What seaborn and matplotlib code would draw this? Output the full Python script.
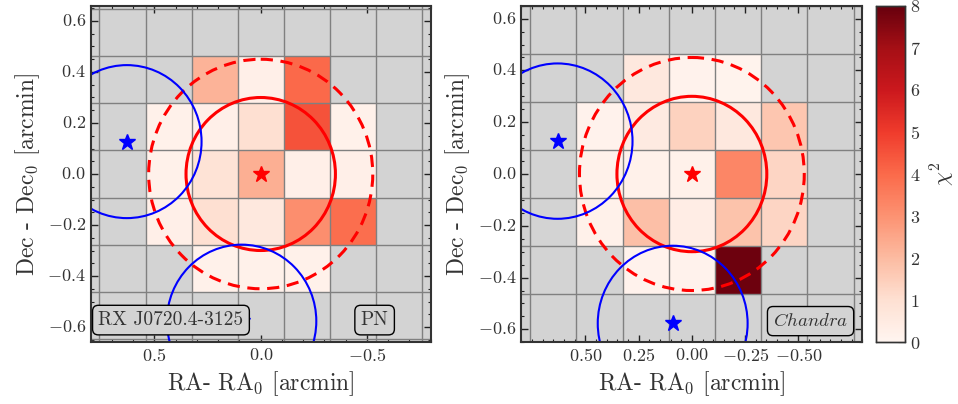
import numpy as np
import seaborn as sns
import matplotlib.pyplot as plt
from matplotlib.patches import Circle

# chi2 maps on a 7x7 pixel grid (rows top->bottom, columns east->west), NaN = no data
pn_chi2 = [
    [np.nan, np.nan, np.nan, np.nan, np.nan, np.nan, np.nan],
    [np.nan, np.nan, 2.2, 0.3, 4.0, np.nan, np.nan],
    [np.nan, 0.2, 0.3, 1.0, 4.5, 0.2, np.nan],
    [np.nan, 0.2, 0.9, 2.3, 0.3, 0.3, np.nan],
    [np.nan, 0.3, 1.0, 0.6, 3.1, 3.9, np.nan],
    [np.nan, np.nan, 0.2, 0.2, 0.2, np.nan, np.nan],
    [np.nan, np.nan, np.nan, np.nan, np.nan, np.nan, np.nan],
]
chandra_chi2 = [
    [np.nan, np.nan, np.nan, np.nan, np.nan, np.nan, np.nan],
    [np.nan, np.nan, 0.6, 0.15, 0.1, np.nan, np.nan],
    [np.nan, 0.15, 0.5, 1.4, 0.6, 1.7, np.nan],
    [np.nan, 0.2, 0.2, 0.2, 3.3, 1.3, np.nan],
    [np.nan, 0.2, 1.9, 0.4, 1.8, 1.3, np.nan],
    [np.nan, np.nan, 0.15, 0.15, 7.9, np.nan, np.nan],
    [np.nan, np.nan, np.nan, np.nan, np.nan, np.nan, np.nan],
]

# geometry [arcmin]
pix_dec = 0.185
dec0 = -31.42
r_in, r_out = 0.3, 0.45
neighbours = [(0.63, 0.127), (0.09, -0.577)]
neighbour_r = 0.3

cosd = np.cos(np.radians(dec0))
pix_ra = pix_dec / cosd
n = len(pn_chi2)
c = n / 2.0

sns.set_style('ticks', {'xtick.direction': 'in', 'ytick.direction': 'in'})
plt.rcParams['font.family'] = ['cmr10']
plt.rcParams['mathtext.fontset'] = 'cm'
plt.rcParams['axes.formatter.use_mathtext'] = True
plt.rcParams['axes.unicode_minus'] = True


def to_ix(ra, dec):
    return c - ra / pix_ra, c - dec / pix_dec


fig = plt.figure(figsize=(9.58, 4.04), dpi=100)
ax1 = fig.add_axes([0.0947, 0.1527, 0.3549, 0.8332])
ax2 = fig.add_axes([0.5442, 0.1527, 0.3560, 0.8332])
cax = fig.add_axes([0.9144, 0.1527, 0.0303, 0.8332])

panels = [
    (ax1, pn_chi2, 0.775, 0.66, [0.5, 0.0, -0.5], 0.1, '{:.1f}', False),
    (ax2, chandra_chi2, 0.748, 0.636, [0.5, 0.25, 0.0, -0.25, -0.5], 0.05, '{:.2f}', True),
]

for ax, data, xmax, ymax, xt, xminor, fmt, show_cbar in panels:
    arr = np.array(data)
    ax.set_facecolor('lightgray')
    sns.heatmap(arr, ax=ax, cmap='Reds', vmin=0, vmax=8, mask=np.isnan(arr),
                cbar=show_cbar, cbar_ax=cax if show_cbar else None)

    # pixel grid
    for i in range(n + 1):
        ax.axvline(i, color='gray', lw=1.0, zorder=2)
        ax.axhline(i, color='gray', lw=1.0, zorder=2)

    # error circles (circles in pixel units since RA pixels are scaled by cos(dec))
    ax.add_patch(Circle(to_ix(0, 0), r_in / pix_dec, fill=False, ec='red', lw=2.2, zorder=4))
    ax.add_patch(Circle(to_ix(0, 0), r_out / pix_dec, fill=False, ec='red', lw=2.2,
                        ls=(0, (4, 2.5)), zorder=4))
    ax.plot(*to_ix(0, 0), marker='*', color='red', ms=12, zorder=5)
    for ra, dec in neighbours:
        ax.add_patch(Circle(to_ix(ra, dec), neighbour_r / pix_dec, fill=False, ec='blue',
                            lw=1.5, zorder=4))
        ax.plot(*to_ix(ra, dec), marker='*', color='blue', ms=12, zorder=5)

    ax.set_xlim(c - xmax / pix_ra, c + xmax / pix_ra)
    ax.set_ylim(c + ymax / pix_dec, c - ymax / pix_dec)

    # ticks in arcmin
    xt = np.array(xt)
    ax.set_xticks(c - xt / pix_ra)
    ax.set_xticklabels(['$' + fmt.format(v) + '$' for v in xt], rotation=0)
    xm = np.arange(-0.8, 0.8001, xminor)
    ax.set_xticks(c - xm / pix_ra, minor=True)
    yt = np.arange(-0.6, 0.6001, 0.2)
    ax.set_yticks(c - yt / pix_dec)
    ax.set_yticklabels(['${:.1f}$'.format(v + 0.0) for v in np.round(yt, 1)], rotation=0)
    ym = np.arange(-0.65, 0.6501, 0.05)
    ax.set_yticks(c - ym / pix_dec, minor=True)

    ax.tick_params(which='both', direction='in', top=True, right=True, labelsize=13,
                   color='#222222', labelcolor='#333333')
    ax.tick_params(which='major', length=5, width=1)
    ax.tick_params(which='minor', length=2.5, width=0.8)
    for s in ax.spines.values():
        s.set_visible(True)
        s.set_color('#333333')
        s.set_linewidth(1.5)
        s.set_zorder(6)

    ax.set_xlabel(r'RA- RA$_0$ [arcmin]', fontsize=17, color='#333333')
    ax.set_ylabel(r'Dec - Dec$_0$ [arcmin]', fontsize=17, color='#333333')

box = dict(boxstyle='round,pad=0.3', fc='lightgray', ec='black', lw=1)
ax1.text(0.236, 0.066, 'RX J0720.4-3125', transform=ax1.transAxes, ha='center', va='center',
         fontsize=14, color='#333333', bbox=box, zorder=7)
ax1.text(0.835, 0.066, 'PN', transform=ax1.transAxes, ha='center', va='center',
         fontsize=14, color='#333333', bbox=box, zorder=7)
ax2.text(0.848, 0.063, r'$\mathit{Chandra}$', transform=ax2.transAxes, ha='center',
         va='center', fontsize=13.5, color='#333333', bbox=box, zorder=7)

cax.set_yticks(range(0, 9))
cax.set_yticklabels(['$%d$' % v for v in range(0, 9)])
cax.set_yticks(np.arange(0, 8.01, 0.2), minor=True)
cax.tick_params(which='both', direction='in', right=True, left=False, labelsize=13,
                color='#222222', labelcolor='#333333')
cax.tick_params(which='major', length=5)
cax.tick_params(which='minor', length=2.5)
for s in cax.spines.values():
    s.set_visible(True)
    s.set_color('#333333')
    s.set_linewidth(1)
cax.set_ylabel('')
fig.text(0.984, 0.57, r'$\chi^2$', rotation=90, ha='center', va='center',
         fontsize=16, color='#333333')

fig.savefig('out.png', dpi=100)
